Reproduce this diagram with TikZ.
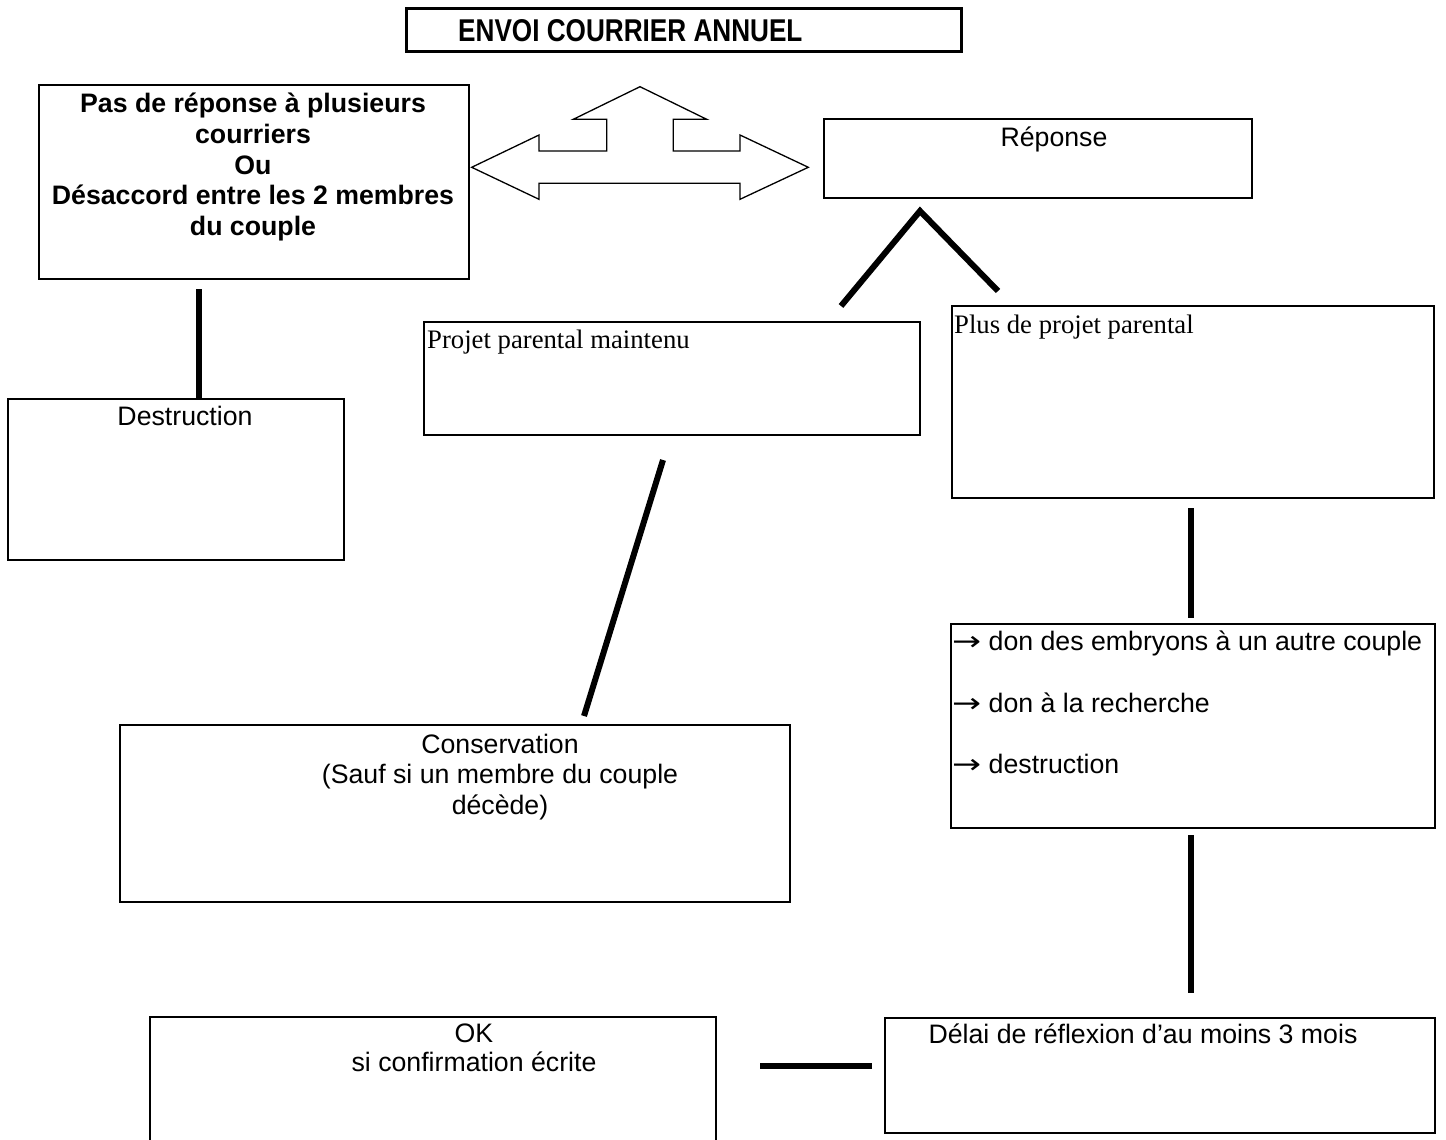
\documentclass[tikz,border=0pt]{standalone}
\usepackage{fontspec}
\setmainfont{Liberation Serif}
\setsansfont{Liberation Sans}
\newfontfamily\arialf{Liberation Sans}
\newfontfamily\timesf{Liberation Serif}
\newfontfamily\symf{DejaVu Sans}
\newcommand{\myarrow}{{\symf\scalebox{1.3}[1]{→}}}
\begin{document}
\begin{tikzpicture}[x=1pt,y=-1pt,
  boxline/.style={draw=black,line width=2.2pt},
  conn/.style={draw=black,line width=6pt,line cap=butt,line join=miter},
  sanstxt/.style={font={\arialf\fontsize{26.7}{30.7}\selectfont},inner sep=0pt},
  boldtxt/.style={font={\arialf\bfseries\fontsize{26.7}{30.7}\selectfont},inner sep=0pt},
  seriftxt/.style={font={\timesf\fontsize{26.7}{30.7}\selectfont},inner sep=0pt}]
\useasboundingbox[fill=white] (0,0) rectangle (1446,1140);

% boxes
\draw[boxline,line width=3pt] (406,9) rectangle (961,52);
\node[boldtxt,anchor=base west] (title) at (458,42) {\fontsize{31.5}{34}\selectfont\scalebox{0.83}[1]{ENVOI COURRIER ANNUEL}};

\draw[boxline] (39,85) rectangle (469,279);
\node[boldtxt,anchor=base] (pas1) at (253,113) {Pas de réponse à plusieurs};
\node[boldtxt,anchor=base] (pas2) at (253,143.5) {courriers};
\node[boldtxt,anchor=base] (pas3) at (253,174) {Ou};
\node[boldtxt,anchor=base] (pas4) at (253,204.5) {Désaccord entre les 2 membres};
\node[boldtxt,anchor=base] (pas5) at (253,235) {du couple};

\draw[boxline] (824,119) rectangle (1252,198);
\node[sanstxt,anchor=base] (rep) at (1054,146) {Réponse};

\draw[boxline] (424,322) rectangle (920,435);
\node[seriftxt,anchor=base west] (projet) at (427,348) {Projet parental maintenu};

\draw[boxline] (952,306) rectangle (1434,498);
\node[seriftxt,anchor=base west] (plus) at (954,333) {Plus de projet parental};

\draw[boxline] (8,399) rectangle (344,560);
\node[sanstxt,anchor=base] (destr) at (185,425) {Destruction};

\draw[boxline] (951,624) rectangle (1435,828);
\node[sanstxt,anchor=base west] (don1) at (952,650) {\myarrow\ don des embryons à un autre couple};
\node[sanstxt,anchor=base west] (don2) at (952,712) {\myarrow\ don à la recherche};
\node[sanstxt,anchor=base west] (don3) at (952,773.5) {\myarrow\ destruction};

\draw[boxline] (120,725) rectangle (790,902);
\node[sanstxt,anchor=base] (cons1) at (500,753) {Conservation};
\node[sanstxt,anchor=base] (cons2) at (500,783.7) {(Sauf si un membre du couple};
\node[sanstxt,anchor=base] (cons3) at (500,814.4) {décède)};

\draw[boxline] (150,1141) -- (150,1017) -- (716,1017) -- (716,1141);
\node[sanstxt,anchor=base] (ok1) at (474,1042) {OK};
\node[sanstxt,anchor=base] (ok2) at (474,1071) {si confirmation écrite};

\draw[boxline] (885,1018) rectangle (1435,1133);
\node[sanstxt,anchor=base] (delai) at (1143,1043) {Délai de réflexion d’au moins 3 mois};

% three-way block arrow
\draw[black,line width=1.3pt,line join=miter,fill=white]
  (471.7,167.3) -- (539,135) -- (539,151) -- (606.7,151) -- (606.7,119.3)
  -- (573.3,119.3) -- (640,86.7) -- (706.7,119.3) -- (673.3,119.3)
  -- (673.3,151) -- (740,151) -- (740,135) -- (808.3,167.3)
  -- (740,199.3) -- (740,183.3) -- (539,183.3) -- (539,199.3) -- cycle;

% connector end points
\coordinate (c1a) at (199,289);
\coordinate (c1b) at (199,398);
\coordinate (apex) at (920,211);
\coordinate (apexL) at (841,306);
\coordinate (apexR) at (998,291);
\coordinate (c3a) at (663,460);
\coordinate (c3b) at (584,716);
\coordinate (c4a) at (1191,508);
\coordinate (c4b) at (1191,618);
\coordinate (c5a) at (1191,835);
\coordinate (c5b) at (1191,993);
\coordinate (c6a) at (872,1066);
\coordinate (c6b) at (760,1066);

\draw[conn] (c1a) -- (c1b);
\draw[conn] (apexL) -- (apex) -- (apexR);
\draw[conn] (c3a) -- (c3b);
\draw[conn] (c4a) -- (c4b);
\draw[conn] (c5a) -- (c5b);
\draw[conn] (c6a) -- (c6b);
\end{tikzpicture}
\end{document}
